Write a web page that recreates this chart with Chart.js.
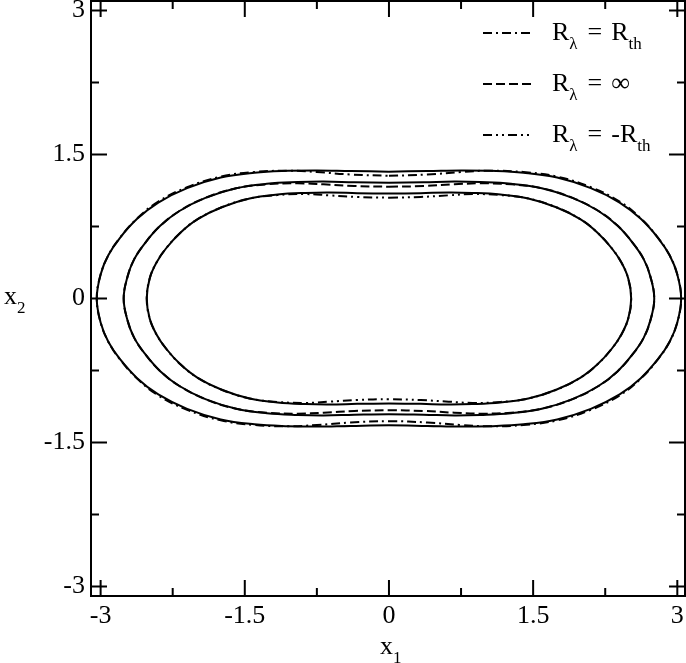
<!DOCTYPE html>
<html>
<head>
<meta charset="utf-8">
<script src="https://cdn.jsdelivr.net/npm/chart.js@4.4.0/dist/chart.umd.min.js"></script>
<style>
  body { margin: 0; background: #fff; }
  canvas { display: block; }
</style>
</head>
<body>
<canvas id="grafico" width="686" height="663"></canvas>
<script>
// curvas (x1, x2), recorridas desde arriba en sentido horario
const outerX = [0, 0.40, 0.75, 1.05, 1.40, 1.75, 2.10, 2.40, 2.62, 2.80, 2.92, 3.00, 3.04,
  3.00, 2.92, 2.80, 2.62, 2.40, 2.10, 1.75, 1.40, 1.05, 0.75, 0.40, 0,
  -0.40, -0.75, -1.05, -1.40, -1.75, -2.10, -2.40, -2.62, -2.80, -2.92, -3.00, -3.04,
  -3.00, -2.92, -2.80, -2.62, -2.40, -2.10, -1.75, -1.40, -1.05, -0.75, -0.40, 0];
const outerY = [1.322, 1.328, 1.335, 1.33, 1.31, 1.26, 1.15, 1.00, 0.83, 0.63, 0.45, 0.25, 0,
  -0.25, -0.45, -0.63, -0.83, -1.00, -1.15, -1.26, -1.31, -1.33, -1.335, -1.328, -1.322,
  -1.328, -1.335, -1.33, -1.31, -1.26, -1.15, -1.00, -0.83, -0.63, -0.45, -0.25, 0,
  0.25, 0.45, 0.63, 0.83, 1.00, 1.15, 1.26, 1.31, 1.33, 1.335, 1.328, 1.322];
const dashDotY = [1.278, 1.292, 1.318, 1.332, 1.318, 1.27, 1.16, 1.01, 0.835, 0.632, 0.45, 0.25, 0,
  -0.25, -0.45, -0.632, -0.835, -1.01, -1.16, -1.27, -1.318, -1.332, -1.318, -1.292, -1.278,
  -1.292, -1.318, -1.332, -1.318, -1.27, -1.16, -1.01, -0.835, -0.632, -0.45, -0.25, 0,
  0.25, 0.45, 0.632, 0.835, 1.01, 1.16, 1.27, 1.318, 1.332, 1.318, 1.292, 1.278];

const middleX = [0, 0.36, 0.68, 0.95, 1.27, 1.59, 1.91, 2.18, 2.38, 2.54, 2.65, 2.72, 2.76,
  2.72, 2.65, 2.54, 2.38, 2.18, 1.91, 1.59, 1.27, 0.95, 0.68, 0.36, 0,
  -0.36, -0.68, -0.95, -1.27, -1.59, -1.91, -2.18, -2.38, -2.54, -2.65, -2.72, -2.76,
  -2.72, -2.65, -2.54, -2.38, -2.18, -1.91, -1.59, -1.27, -0.95, -0.68, -0.36, 0];
const middleY = [1.206, 1.211, 1.218, 1.213, 1.195, 1.149, 1.049, 0.912, 0.757, 0.575, 0.41, 0.228, 0,
  -0.228, -0.41, -0.575, -0.757, -0.912, -1.049, -1.149, -1.195, -1.213, -1.218, -1.211, -1.206,
  -1.211, -1.218, -1.213, -1.195, -1.149, -1.049, -0.912, -0.757, -0.575, -0.41, -0.228, 0,
  0.228, 0.41, 0.575, 0.757, 0.912, 1.049, 1.149, 1.195, 1.213, 1.218, 1.211, 1.206];
const dashedY = [1.165, 1.172, 1.19, 1.20, 1.19, 1.149, 1.049, 0.912, 0.757, 0.575, 0.41, 0.228, 0,
  -0.228, -0.41, -0.575, -0.757, -0.912, -1.049, -1.149, -1.19, -1.20, -1.19, -1.172, -1.165,
  -1.172, -1.19, -1.20, -1.19, -1.149, -1.049, -0.912, -0.757, -0.575, -0.41, -0.228, 0,
  0.228, 0.41, 0.575, 0.757, 0.912, 1.049, 1.149, 1.19, 1.20, 1.19, 1.172, 1.165];

const innerX = [0, 0.33, 0.62, 0.87, 1.16, 1.45, 1.74, 1.99, 2.17, 2.32, 2.42, 2.49, 2.52,
  2.49, 2.42, 2.32, 2.17, 1.99, 1.74, 1.45, 1.16, 0.87, 0.62, 0.33, 0,
  -0.33, -0.62, -0.87, -1.16, -1.45, -1.74, -1.99, -2.17, -2.32, -2.42, -2.49, -2.52,
  -2.49, -2.42, -2.32, -2.17, -1.99, -1.74, -1.45, -1.16, -0.87, -0.62, -0.33, 0];
const innerY = [1.093, 1.098, 1.104, 1.10, 1.083, 1.042, 0.951, 0.827, 0.686, 0.521, 0.372, 0.207, 0,
  -0.207, -0.372, -0.521, -0.686, -0.827, -0.951, -1.042, -1.083, -1.10, -1.104, -1.098, -1.093,
  -1.098, -1.104, -1.10, -1.083, -1.042, -0.951, -0.827, -0.686, -0.521, -0.372, -0.207, 0,
  0.207, 0.372, 0.521, 0.686, 0.827, 0.951, 1.042, 1.083, 1.10, 1.104, 1.098, 1.093];
const dashDotDotY = [1.05, 1.058, 1.075, 1.088, 1.078, 1.042, 0.951, 0.827, 0.686, 0.521, 0.372, 0.207, 0,
  -0.207, -0.372, -0.521, -0.686, -0.827, -0.951, -1.042, -1.078, -1.088, -1.075, -1.058, -1.05,
  -1.058, -1.075, -1.088, -1.078, -1.042, -0.951, -0.827, -0.686, -0.521, -0.372, -0.207, 0,
  0.207, 0.372, 0.521, 0.686, 0.827, 0.951, 1.042, 1.078, 1.088, 1.075, 1.058, 1.05];

const tickValues = [-3, -1.5, 0, 1.5, 3];
const minorTickValues = [-2.25, -0.75, 0.75, 2.25];
const legendLabels = ['R_λ = R_th', 'R_λ = ∞', 'R_λ = -R_th'];
const xTitle = 'x_1';
const yTitle = 'x_2';

const fontFamily = "'Liberation Serif', 'Times New Roman', serif";
const dashDot = [9, 4, 2, 4];
const dashed = [9, 4];
const dashDotDot = [9, 4, 2, 4, 2, 4];

const toPoints = (xs, ys) => xs.map((x, i) => ({ x: x, y: ys[i] }));

const curve = (xs, ys, dash, label) => ({
  label: label,
  data: toPoints(xs, ys),
  showLine: true,
  borderColor: '#000',
  borderWidth: 2,
  borderDash: dash,
  pointRadius: 0,
  tension: 0.4,
  fill: false
});

// texto con subindices: "R_λ" -> R y λ abajo; los espacios valen 9px
const drawRich = (ctx, text, x, y, size) => {
  const parts = text.split(/_(\S+)/);
  parts.forEach((p, i) => {
    if (!p) return;
    if (i % 2 === 1) {
      ctx.font = Math.round(size * 0.66) + 'px ' + fontFamily;
      ctx.fillText(p, x, y + size * 0.36);
      x += ctx.measureText(p).width + 1;
    } else {
      ctx.font = size + 'px ' + fontFamily;
      p.split(' ').forEach((w, j) => {
        if (j > 0) x += 9;
        if (!w) return;
        ctx.fillText(w, x, y);
        x += ctx.measureText(w).width;
      });
    }
  });
};

const marcoPlugin = {
  id: 'marco',
  afterDraw(chart) {
    const { ctx, chartArea: a, scales } = chart;
    const sx = scales.x, sy = scales.y;
    ctx.save();
    ctx.strokeStyle = '#000';
    ctx.fillStyle = '#000';
    ctx.lineWidth = 2;
    ctx.setLineDash([]);
    ctx.strokeRect(a.left, a.top, a.right - a.left, a.bottom - a.top);

    const ticks = (vals, len) => {
      vals.forEach(v => {
        const px = sx.getPixelForValue(v);
        const py = sy.getPixelForValue(v);
        ctx.moveTo(px, a.bottom); ctx.lineTo(px, a.bottom - len);
        ctx.moveTo(px, a.top); ctx.lineTo(px, a.top + len);
        ctx.moveTo(a.left, py); ctx.lineTo(a.left + len, py);
        ctx.moveTo(a.right, py); ctx.lineTo(a.right - len, py);
      });
    };
    ctx.beginPath();
    ticks(tickValues, 16);
    ticks(minorTickValues, 8);
    ctx.stroke();

    // titulos de ejes
    ctx.textAlign = 'left';
    ctx.textBaseline = 'alphabetic';
    drawRich(ctx, xTitle, 380, 654, 26);
    drawRich(ctx, yTitle, 4, 304, 26);

    // leyenda
    chart.data.datasets.forEach(ds => {
      if (!ds.label) return;
      const row = legendLabels.indexOf(ds.label);
      const yl = 33 + row * 51;
      ctx.beginPath();
      ctx.setLineDash(ds.borderDash);
      ctx.moveTo(483, yl);
      ctx.lineTo(532, yl);
      ctx.stroke();
      ctx.setLineDash([]);
      drawRich(ctx, ds.label, 552, yl + 7, 26);
    });
    ctx.restore();
  }
};

const escala = (min, max) => ({
  type: 'linear',
  min: min,
  max: max,
  grid: { display: false, drawTicks: false },
  border: { display: false },
  ticks: {
    color: '#000',
    font: { family: fontFamily, size: 26 },
    callback: v => String(v)
  },
  afterBuildTicks: axis => { axis.ticks = tickValues.map(v => ({ value: v })); }
});

const xScale = escala(-3.1, 3.08);
xScale.ticks.padding = 5;
xScale.afterFit = s => { s.height = 67; s.paddingLeft = 0; s.paddingRight = 0; };
const yScale = escala(-3.1, 3.1);
yScale.ticks.padding = 6;
yScale.afterFit = s => { s.width = 91; s.paddingTop = 0; s.paddingBottom = 0; };

new Chart(document.getElementById('grafico'), {
  type: 'scatter',
  data: {
    datasets: [
      curve(outerX, outerY, []),
      curve(middleX, middleY, []),
      curve(innerX, innerY, []),
      curve(outerX, dashDotY, dashDot, legendLabels[0]),
      curve(middleX, dashedY, dashed, legendLabels[1]),
      curve(innerX, dashDotDotY, dashDotDot, legendLabels[2])
    ]
  },
  options: {
    responsive: false,
    animation: false,
    layout: { padding: { top: 1, right: 1, left: 0, bottom: 0 } },
    scales: { x: xScale, y: yScale },
    plugins: {
      legend: { display: false },
      tooltip: { enabled: false }
    }
  },
  plugins: [marcoPlugin]
});
</script>
</body>
</html>
